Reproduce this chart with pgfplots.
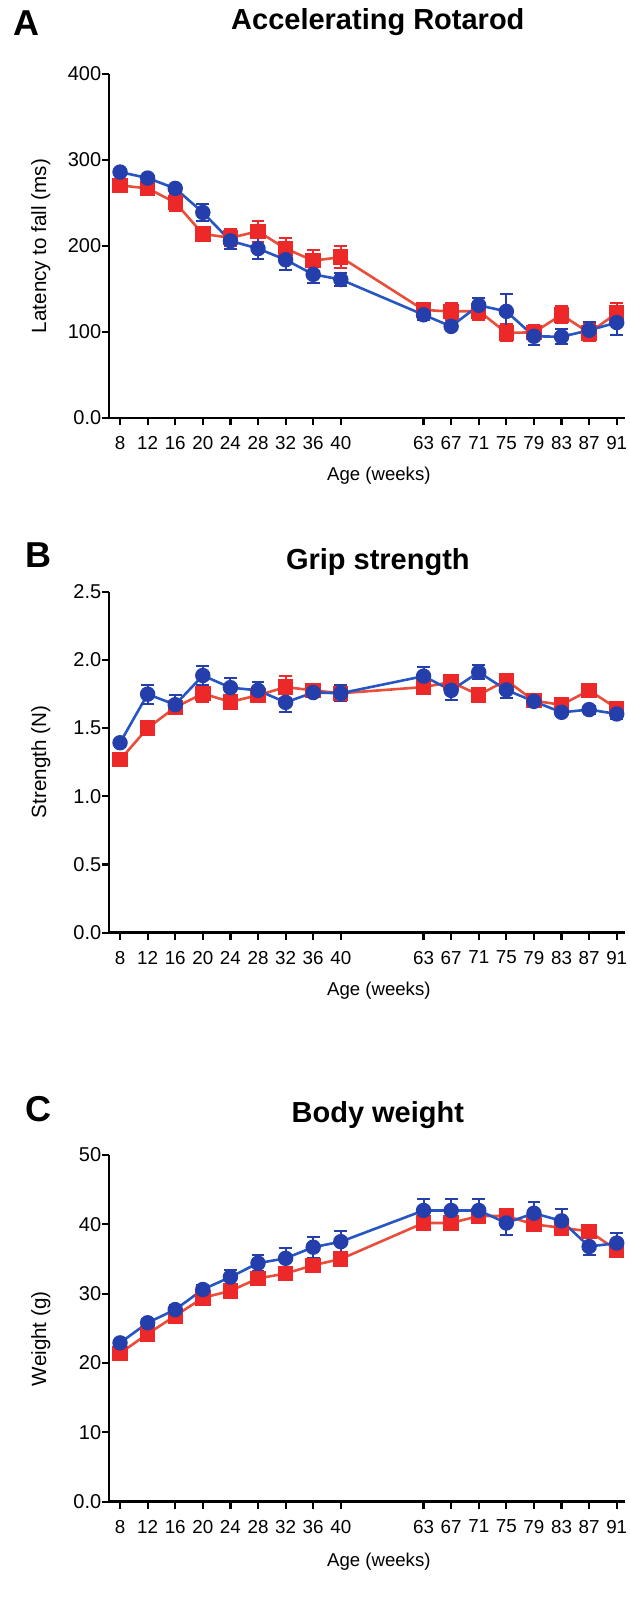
\documentclass[border=0pt]{standalone}
\usepackage{fontspec}
\setmainfont{Liberation Sans}
\usepackage{pgfplots}
\usepackage{pgfplotstable}
\pgfplotsset{compat=1.18}

\definecolor{redmark}{RGB}{236,40,40}
\definecolor{redline}{RGB}{232,78,58}
\definecolor{bluemark}{RGB}{36,62,172}
\definecolor{blueline}{RGB}{38,86,196}

% x = position index (8..40 -> 0..8, 63..91 -> 11..18)
% rotarod
\pgfplotstableread{
x  yb   eb   yr    er
0  286  3    270.5 7
1  279  3    267   6
2  267  4    250.6 10
3  239  10   214   6
4  206  10   209.6 10
5  197  12   217   12
6  184  12   197   12
7  167  10   183   12
8  161  8    187   13
11 120  6    125.7 7
12 106.5 3   123.8 10
13 131  8    124.5 10
14 124  20   99    10
15 95   10   99.6  8
16 94.5 9    120   10
17 102  10   99    10
18 111  15   122   12
}\rotarod
% grip strength
\pgfplotstableread{
x  yb    eb    yr    er
0  1.392 0.03  1.267 0.04
1  1.748 0.07  1.500 0.04
2  1.671 0.07  1.651 0.04
3  1.885 0.07  1.752 0.06
4  1.796 0.07  1.692 0.03
5  1.776 0.06  1.740 0.03
6  1.688 0.07  1.800 0.08
7  1.760 0.03  1.776 0.04
8  1.755 0.06  1.755 0.04
11 1.880 0.07  1.800 0.03
12 1.776 0.07  1.837 0.04
13 1.909 0.05  1.743 0.03
14 1.779 0.06  1.849 0.04
15 1.695 0.03  1.700 0.03
16 1.615 0.02  1.670 0.03
17 1.635 0.03  1.776 0.03
18 1.603 0.04  1.644 0.03
}\grip
% body weight
\pgfplotstableread{
x  yb    eb    yr    er
0  22.9  0.5   21.4  0.5
1  25.8  0.6   24.2  0.5
2  27.7  0.6   26.8  0.5
3  30.6  0.7   29.4  0.5
4  32.4  1.0   30.4  0.5
5  34.4  1.2   32.2  0.6
6  35.1  1.5   32.9  0.6
7  36.7  1.5   34.1  0.6
8  37.5  1.6   35.0  0.6
11 42.0  1.6   40.2  0.8
12 42.0  1.6   40.2  0.8
13 42.0  1.6   41.2  0.8
14 40.2  1.8   41.2  1.0
15 41.6  1.6   40.0  0.8
16 40.5  1.7   39.5  0.7
17 36.8  1.2   39.0  0.6
18 37.3  1.5   36.3  0.6
}\weight

\pgfplotsset{
  panel/.style={
    scale only axis, width=258pt,
    axis x line*=bottom, axis y line*=left,
    axis line style={line width=1.2pt},
    xmin=-0.4, xmax=18.3, ymin=0,
    xtick={0,1,2,3,4,5,6,7,8,11,12,13,14,15,16,17,18},
    xticklabels={8,12,16,20,24,28,32,36,40,63,67,71,75,79,83,87,91},
    tick align=outside, major tick length=3.5pt,
    every tick/.style={black, line width=1.1pt},
    xticklabel style={font=\fontsize{9.4}{10}\selectfont, inner sep=1pt, yshift=-4.5pt},
    yticklabel style={font=\fontsize{10}{11}\selectfont, inner sep=0.5pt, xshift=0.3pt},
    xlabel style={font=\fontsize{9.3}{10}\selectfont},
    ylabel style={font=\fontsize{10.3}{11}\selectfont},
    xlabel={Age (weeks)},
    title style={font=\bfseries\fontsize{14.5}{16}\selectfont, anchor=center},
    clip=false,
    /pgf/number format/assume math mode=true,
  },
  redser/.style={redline, line width=1.3pt, mark=square*, mark size=3.2pt,
    mark options={fill=redmark, draw=redmark},
    error bars/.cd, y dir=both, y explicit,
    error bar style={redmark, line width=1pt},
    error mark options={rotate=90, mark size=3.2pt, line width=1pt, redmark}},
  blueser/.style={blueline, line width=1.3pt, mark=*, mark size=3.2pt,
    mark options={fill=bluemark, draw=bluemark},
    error bars/.cd, y dir=both, y explicit,
    error bar style={bluemark, line width=1pt},
    error mark options={rotate=90, mark size=3.2pt, line width=1pt, bluemark}},
}

\begin{document}
\begin{tikzpicture}
\useasboundingbox (0,0) rectangle (315pt,-799.5pt);

\node[font=\bfseries\fontsize{18}{20}\selectfont] at (13.3pt,-11.7pt) {A};
\node[font=\bfseries\fontsize{18}{20}\selectfont] at (19.4pt,-277.8pt) {B};
\node[font=\bfseries\fontsize{18}{20}\selectfont] at (19.4pt,-554.5pt) {C};

% A
\begin{axis}[panel, height=172pt, at={(54.5pt,-209pt)}, anchor=south west,
  ymax=400, ytick={0,100,200,300,400},
  yticklabels={0.0,100,200,300,400},
  title={Accelerating Rotarod},
  title style={at={(axis description cs:0.521,1.116)}},
  ylabel={Latency to fall (ms)},
  ylabel style={at={(axis description cs:-0.132,0.5)}, anchor=center},
  xlabel style={at={(axis description cs:0.523,-0.168)}, anchor=center}]
\addplot[redser] table[x=x, y=yr, y error=er] {\rotarod};
\addplot[blueser] table[x=x, y=yb, y error=eb] {\rotarod};
\end{axis}

% B
\begin{axis}[panel, height=170.5pt, at={(54.5pt,-466.3pt)}, anchor=south west,
  ymax=2.5, ytick={0,0.5,1,1.5,2,2.5},
  yticklabels={0.0,0.5,1.0,1.5,2.0,2.5},
  title={Grip strength},
  title style={at={(axis description cs:0.521,1.050)}},
  ylabel={Strength (N)},
  ylabel style={at={(axis description cs:-0.132,0.5)}, anchor=center},
  xlabel style={at={(axis description cs:0.523,-0.169)}, anchor=center}]
\addplot[redser] table[x=x, y=yr, y error=er] {\grip};
\addplot[blueser] table[x=x, y=yb, y error=eb] {\grip};
\end{axis}

% C
\begin{axis}[panel, height=173.3pt, at={(54.5pt,-750.8pt)}, anchor=south west,
  ymax=50, ytick={0,10,20,30,40,50},
  yticklabels={0.0,10,20,30,40,50},
  title={Body weight},
  title style={at={(axis description cs:0.521,1.081)}},
  ylabel={Weight (g)},
  ylabel style={at={(axis description cs:-0.132,0.47)}, anchor=center},
  xlabel style={at={(axis description cs:0.523,-0.172)}, anchor=center}]
\addplot[redser] table[x=x, y=yr, y error=er] {\weight};
\addplot[blueser] table[x=x, y=yb, y error=eb] {\weight};
\end{axis}
\end{tikzpicture}
\end{document}
